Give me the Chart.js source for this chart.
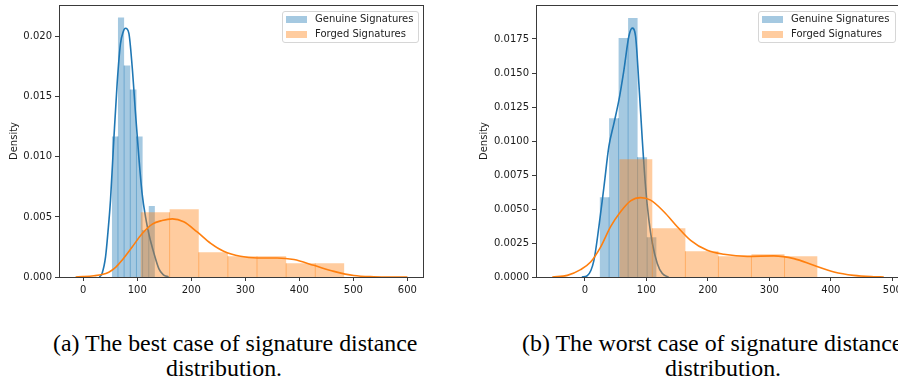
<!DOCTYPE html>
<html>
<head>
<meta charset="utf-8">
<script src="https://cdn.jsdelivr.net/npm/chart.js@4.4.1/dist/chart.umd.min.js"></script>
<style>
  html, body { margin:0; padding:0; width:898px; height:383px; overflow:hidden; background:#fff; }
  .cv { position:absolute; top:0; }
  .legend { position:absolute; top:11px; height:32px; border:1px solid #d6d6d6; border-radius:3px; background:rgba(255,255,255,0.85); box-sizing:border-box; font-family:'DejaVu Sans'; font-size:10px; color:#222; }
  .legend .row { position:absolute; left:0; height:12px; line-height:12px; white-space:nowrap; }
  .legend .sw { position:absolute; width:21px; height:7px; }
  .legend .tx { position:absolute; }
  .cap { position:absolute; font-family:'Liberation Serif','Times New Roman',serif; font-size:23.9px; color:#000; white-space:nowrap; line-height:25px; }
</style>
</head>
<body>
<canvas id="c1" class="cv" width="450" height="300" style="left:0px"></canvas>
<canvas id="c2" class="cv" width="458" height="300" style="left:470px"></canvas>

<div class="legend" style="left:282px;width:137px;">
  <div class="sw" style="left:3px;top:4px;background:rgba(31,119,180,0.4)"></div>
  <div class="tx" style="left:32px;top:1px;">Genuine Signatures</div>
  <div class="sw" style="left:3px;top:19px;background:rgba(255,127,14,0.4)"></div>
  <div class="tx" style="left:32px;top:16px;">Forged Signatures</div>
</div>
<div class="legend" style="left:758px;width:138px;">
  <div class="sw" style="left:3px;top:4px;background:rgba(31,119,180,0.4)"></div>
  <div class="tx" style="left:32px;top:1px;">Genuine Signatures</div>
  <div class="sw" style="left:3px;top:19px;background:rgba(255,127,14,0.4)"></div>
  <div class="tx" style="left:32px;top:16px;">Forged Signatures</div>
</div>

<div class="cap" style="left:53px;top:331px;">(a) The best case of signature distance</div>
<div class="cap" id="capA2" style="left:224px;top:356px;transform:translateX(-50%);">distribution.</div>
<div class="cap" style="left:522px;top:331px;">(b) The worst case of signature distance</div>
<div class="cap" style="left:723px;top:356px;transform:translateX(-50%);">distribution.</div>

<script>
// ---------- DATA ----------
// Left panel (a): best case
const leftGenuineEdges   = [53, 64.4, 75.8, 87.2, 98.6, 110, 121.4, 132.8];
const leftGenuineHeights = [0.0117, 0.0216, 0.0176, 0.0156, 0.0117, 0.0039, 0.0059];
const leftForgedEdges    = [106.1, 160.0, 213.9, 267.8, 321.7, 375.6, 429.5, 483.4];
const leftForgedHeights  = [0.00538, 0.00564, 0.00205, 0.00173, 0.00172, 0.00114, 0.00114];
const leftGenuineKdeX = [30, 35, 41.5, 46, 50.6, 56.7, 62.9, 69, 74, 78.3, 84.5, 90.7, 96.9, 103, 109.2, 115.4, 121.5, 130.8, 140, 148, 158];
const leftGenuineKdeY = [0, 0.0003, 0.0017, 0.0038, 0.0064, 0.0114, 0.0161, 0.0194, 0.0204, 0.0207, 0.0203, 0.0175, 0.0136, 0.0100, 0.0069, 0.0050, 0.0036, 0.0020, 0.0007, 0.0002, 0];
const leftForgedKdeX = [-14, 0, 20, 35, 47.5, 60, 72, 90.7, 109, 128, 146, 165, 186, 211, 236, 260, 291, 322, 359, 390, 427, 464, 501, 538, 570, 600];
const leftForgedKdeY = [0, 0.00003, 0.0001, 0.0002, 0.0004, 0.0008, 0.0014, 0.0025, 0.0036, 0.0044, 0.0047, 0.00484, 0.0046, 0.00375, 0.0028, 0.00214, 0.00172, 0.00158, 0.00158, 0.00145, 0.00097, 0.00047, 0.00012, 0.00002, 0, 0];
const leftXTicks = [0, 100, 200, 300, 400, 500, 600];
const leftYTicks = [0, 0.005, 0.010, 0.015, 0.020];

// Right panel (b): worst case
const rightGenuineEdges   = [23.9, 39.35, 54.8, 70.25, 85.7, 101.15, 116.6];
const rightGenuineHeights = [0.00587, 0.01168, 0.01757, 0.01904, 0.00881, 0.00292];
const rightForgedEdges    = [55.9, 109.6, 163.4, 217.1, 270.8, 324.6, 378.3];
const rightForgedHeights  = [0.00866, 0.00358, 0.00189, 0.00152, 0.00167, 0.00152];
const rightGenuineKdeX = [-5, 4, 14.6, 22.8, 30.9, 39, 47.2, 55.3, 63.4, 71.5, 77, 82.4, 87.8, 93.3, 98.7, 104, 109.6, 117.7, 125.9, 136];
const rightGenuineKdeY = [0, 0.0001, 0.0012, 0.0037, 0.0066, 0.0096, 0.0113, 0.0130, 0.0152, 0.0177, 0.0183, 0.0177, 0.0142, 0.0101, 0.0066, 0.0042, 0.0025, 0.0010, 0.00025, 0];
const rightForgedKdeX = [-53, -28.6, -7, 9.3, 25.5, 41.8, 58, 74.3, 90.6, 106.8, 128.5, 150.2, 171.9, 199, 226, 264, 307, 340, 372, 405, 437, 470, 486];
const rightForgedKdeY = [0, 0.00012, 0.00054, 0.0011, 0.0022, 0.0037, 0.0048, 0.0056, 0.00584, 0.00565, 0.0048, 0.0037, 0.0027, 0.00196, 0.00167, 0.00152, 0.00155, 0.00135, 0.00086, 0.00037, 0.00012, 0.00002, 0];
const rightXTicks = [0, 100, 200, 300, 400, 500];
const rightYTicks = [0, 0.0025, 0.0050, 0.0075, 0.0100, 0.0125, 0.0150, 0.0175];

// ---------- helpers ----------
const BLUE = '#1f77b4', ORANGE = '#ff7f0e';
const BLUE_A = 'rgba(31,119,180,0.4)', ORANGE_A = 'rgba(255,127,14,0.4)';

function histPoints(edges, heights) {
  const pts = [];
  for (let i = 0; i < heights.length; i++) {
    pts.push({x: edges[i], y: heights[i]});
    pts.push({x: edges[i + 1], y: heights[i]});
  }
  return pts;
}
function seamPoints(edges, heights) {
  const pts = [];
  for (let i = 1; i < heights.length; i++) {
    const m = Math.min(heights[i - 1], heights[i]);
    pts.push({x: edges[i], y: 0});
    pts.push({x: edges[i], y: m});
    pts.push({x: edges[i], y: null});
  }
  return pts;
}
function kdePoints(xs, ys) { return xs.map((x, i) => ({x: x, y: ys[i]})); }

const frame = {
  id: 'frame',
  afterDatasetsDraw(chart) {
    const a = chart.chartArea, ctx = chart.ctx;
    ctx.save();
    ctx.strokeStyle = '#3a3a3a';
    ctx.lineWidth = 1;
    ctx.strokeRect(Math.round(a.left) + 0.5, Math.round(a.top) + 0.5, Math.round(a.right - a.left) - 1, Math.round(a.bottom - a.top));
    ctx.restore();
  }
};

Chart.defaults.font.family = 'DejaVu Sans';
Chart.defaults.font.size = 10;
Chart.defaults.color = '#1a1a1a';

function makeChart(id, cfg) {
  const ds = [
    {type:'line', data: histPoints(cfg.gE, cfg.gH), fill:'origin', backgroundColor: BLUE_A, borderWidth:0, borderColor:'transparent', pointRadius:0, order:6},
    {type:'line', data: seamPoints(cfg.gE, cfg.gH), fill:false, borderColor: BLUE_A, borderWidth:1, pointRadius:0, spanGaps:false, order:5},
    {type:'line', data: kdePoints(cfg.gKx, cfg.gKy), fill:false, borderColor: BLUE, borderWidth:1.6, pointRadius:0, cubicInterpolationMode:'monotone', order:4},
    {type:'line', data: histPoints(cfg.fE, cfg.fH), fill:'origin', backgroundColor: ORANGE_A, borderWidth:0, borderColor:'transparent', pointRadius:0, order:3},
    {type:'line', data: seamPoints(cfg.fE, cfg.fH), fill:false, borderColor: ORANGE_A, borderWidth:1, pointRadius:0, spanGaps:false, order:2},
    {type:'line', data: kdePoints(cfg.fKx, cfg.fKy), fill:false, borderColor: ORANGE, borderWidth:1.6, pointRadius:0, cubicInterpolationMode:'monotone', order:1}
  ];
  return new Chart(document.getElementById(id), {
    type: 'line',
    data: { datasets: ds },
    options: {
      responsive: false, animation: false, devicePixelRatio: 1,
      layout: { padding: { left: 0, top: 5, right: cfg.padRight, bottom: 0 } },
      plugins: { legend: {display:false}, tooltip: {enabled:false}, title:{display:false} },
      scales: {
        x: {
          type: 'linear', min: cfg.xMin, max: cfg.xMax,
          border: { display: false },
          grid: { drawOnChartArea: false, drawTicks: true, tickLength: 4, color: '#3a3a3a' },
          ticks: { maxRotation: 0, padding: 3, callback: v => String(v) },
          afterBuildTicks: s => { s.ticks = cfg.xTicks.map(v => ({value: v})); },
          afterFit: s => { s.height = 23; s.paddingLeft = 0; s.paddingRight = 0; }
        },
        y: {
          type: 'linear', min: 0, max: cfg.yMax,
          border: { display: false },
          grid: { drawOnChartArea: false, drawTicks: true, tickLength: 4, color: '#3a3a3a' },
          ticks: { padding: 3, callback: v => v.toFixed(cfg.dec) },
          title: { display: true, text: 'Density', font: {size: 10}, padding: {top: 8, bottom: 0} },
          afterBuildTicks: s => { s.ticks = cfg.yTicks.map(v => ({value: v})); },
          afterFit: s => { s.width = cfg.yW; s.paddingTop = 0; s.paddingBottom = 0; }
        }
      }
    },
    plugins: [frame]
  });
}

makeChart('c1', {
  gE: leftGenuineEdges, gH: leftGenuineHeights, fE: leftForgedEdges, fH: leftForgedHeights,
  gKx: leftGenuineKdeX, gKy: leftGenuineKdeY, fKx: leftForgedKdeX, fKy: leftForgedKdeY,
  xMin: -44.7, xMax: 630.7, yMax: 0.02264, xTicks: leftXTicks, yTicks: leftYTicks,
  dec: 3, yW: 59, padRight: 26
});
makeChart('c2', {
  gE: rightGenuineEdges, gH: rightGenuineHeights, fE: rightForgedEdges, fH: rightForgedHeights,
  gKx: rightGenuineKdeX, gKy: rightGenuineKdeY, fKx: rightForgedKdeX, fKy: rightForgedKdeY,
  xMin: -79.5, xMax: 513, yMax: 0.0200, xTicks: rightXTicks, yTicks: rightYTicks,
  dec: 4, yW: 66, padRight: 27.6
});
</script>
</body>
</html>
